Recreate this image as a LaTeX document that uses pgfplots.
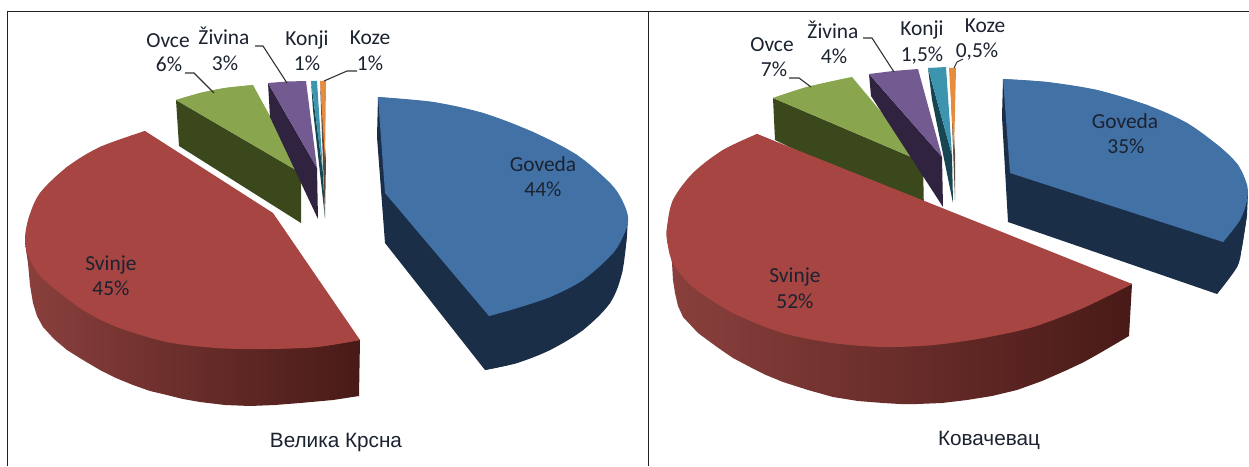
\documentclass[border=0pt]{standalone}
\usepackage{fontspec}
\setmainfont{Carlito}
\newfontfamily\titlefont{Liberation Sans}
\usepackage{pgfplots}
\pgfplotsset{compat=1.18}
\definecolor{bluetop}{HTML}{4271A6}
\definecolor{blueside}{HTML}{1A2E48}
\definecolor{redtop}{HTML}{A64541}
\definecolor{redA}{HTML}{8A403D}
\definecolor{redB}{HTML}{6B2D2A}
\definecolor{redC}{HTML}{481A17}
\definecolor{greentop}{HTML}{89A54E}
\definecolor{greenside}{HTML}{3A481C}
\definecolor{purptop}{HTML}{735A90}
\definecolor{purpside}{HTML}{2F2340}
\definecolor{tealtop}{HTML}{3C94AE}
\definecolor{tealside}{HTML}{174552}
\definecolor{orgtop}{HTML}{E68C3F}
\definecolor{orgside}{HTML}{5A4A3A}
\definecolor{framecol}{HTML}{222222}
\definecolor{lead}{HTML}{333333}
\definecolor{txt}{HTML}{1B2230}
% straight outline
\newcommand{\Pg}[2]{\addplot[fill=#1,draw=none] coordinates {#2} --cycle;}
% rounded arc closed by its chord
\newcommand{\Ar}[2]{\addplot[fill=#1,draw=none,smooth,tension=0.55] coordinates {#2} --cycle;}
\newcommand{\Sd}[1]{\addplot[left color=redA,middle color=redB,right color=redC,draw=none] coordinates {#1} --cycle;}
\newcommand{\Ln}[1]{\addplot[lead,line width=1.1pt] coordinates {#1};}
\newcommand{\Lb}[3]{\node[text=txt,inner sep=0pt,anchor=base,font=\fontsize{21.5}{24}\selectfont] at (axis cs:#1,#2) {#3};}
\begin{document}
\begin{tikzpicture}
\begin{axis}[width=1249bp,height=466bp,scale only axis,xmin=0,xmax=1249,ymin=0,ymax=466,y dir=reverse,hide axis,clip=true,clip mode=individual]
% background and frame
\addplot[fill=white,draw=none] coordinates {(0,0)(1249,0)(1249,466)(0,466)} --cycle;
\addplot[framecol,line width=1pt] coordinates {(7.5,466)(7.5,11.5)(1249,11.5)};
\addplot[framecol,line width=1pt] coordinates {(648.5,11.5)(648.5,466)};
% LEFT: Ovce
\Pg{greenside}{(176,100)(179,146)(301,223)(301,173)}
\Pg{greentop}{(176,100)(200,93)(225,88)(253,85)(301,173)}
\Ar{greentop}{(176,100)(200,93)(225,88)(253,85)}
% Zivina
\Pg{purpside}{(268,83)(270,117)(318,219)(317,168)}
\Pg{purptop}{(268,83)(287,81.5)(306,81)(317,168)}
% Konji
\Pg{tealside}{(311,81)(313,110)(325,218)(323,173)}
\Pg{tealtop}{(311,81)(317,81)(323,173)}
% Koze
\Pg{orgside}{(320,81)(325,218)(326,160)}
\Pg{orgtop}{(320,81)(326,81)(325,160)}
% Goveda
\Pg{blueside}{(378,97)(377,137)(385,243)(485,370)(517,363)(550,350)(583,330)(610,303)(622,273)(627,235)(628,217)}
\Ar{blueside}{(485,370)(517,363)(550,350)(583,330)(610,303)(622,273)(627,235)}
\Pg{bluetop}{(378,97)(433,102)(483,113)(533,132)(577,155)(610,183)(622,200)(628,217)(625,232)(613,253)(583,280)(550,297)(517,308)(489,316)(385,193)}
\Ar{bluetop}{(378,97)(433,102)(483,113)(533,132)(577,155)(610,183)(622,200)(628,217)(625,232)(613,253)(583,280)(550,297)(517,308)(489,316)}
% Svinje
\Sd{(25,240)(26,250)(28,263)(30,285)(33,303)(37,316)(43,327)(54,339)(67,350)(83,360)(100,370)(116,378)(133,385)(150,391)(167,395)(183,399)(200,402)(225,405)(250,406)(275,405)(300,403)(333,400)(359,396)(360,340)}
\Pg{redtop}{(145,131)(100,147)(67,167)(40,193)(29,217)(25,238)(28,255)(37,272)(50,285)(83,310)(117,327)(167,342)(217,348)(267,349)(317,347)(360,340)(273,213)}
\Ar{redtop}{(145,131)(100,147)(67,167)(40,193)(29,217)(25,238)(28,255)(37,272)(50,285)(83,310)(117,327)(167,342)(217,348)(267,349)(317,347)(360,340)}
% RIGHT: Ovce
\Pg{greenside}{(773,98)(775,140)(924,212)(923,162)}
\Pg{greentop}{(773,98)(807,87)(852,77)(923,162)}
\Ar{greentop}{(773,98)(807,87)(852,77)}
% Zivina
\Pg{purpside}{(869,74)(871,96)(943,207)(942,157)}
\Pg{purptop}{(869,74)(893,71)(918,69)(942,157)}
% Konji
\Pg{tealside}{(928,68)(932,100)(953,203)(952,155)}
\Pg{tealtop}{(928,68)(946,67)(952,155)}
% Koze
\Pg{orgside}{(950,70)(955,200)(955,153)}
\Pg{orgtop}{(949,68)(956,68)(954,153)}
% Goveda
\Pg{blueside}{(1003,79)(1002,117)(1008,222)(1217,294)(1237,267)(1242,247)(1247,215)(1248,193)}
\Ar{blueside}{(1217,294)(1237,267)(1242,247)(1247,215)}
\Pg{bluetop}{(1003,79)(1047,82)(1097,90)(1147,105)(1187,123)(1220,147)(1238,165)(1247,185)(1247,200)(1240,220)(1223,242)(1010,173)}
\Ar{bluetop}{(1003,79)(1047,82)(1097,90)(1147,105)(1187,123)(1220,147)(1238,165)(1247,185)(1247,200)(1240,220)(1223,242)}
% Svinje
\Sd{(667,240)(670,252)(672,263)(673,280)(675,293)(678,306)(683,317)(698,333)(717,347)(733,358)(750,367)(766,375)(783,382)(808,390)(833,397)(858,401)(883,403)(900,404)(917,404)(942,403)(967,400)(992,396)(1017,390)(1042,381)(1067,370)(1084,362)(1100,353)(1129,336)(1132,284)}
\Pg{redtop}{(757,134)(723,150)(693,173)(673,200)(667,227)(667,240)(673,263)(693,287)(733,313)(783,333)(833,343)(883,347)(933,345)(983,338)(1033,327)(1083,308)(1132,284)(980,230)(924,206)}
\Ar{redtop}{(757,134)(723,150)(693,173)(673,200)(667,227)(667,240)(673,263)(693,287)(733,313)(783,333)(833,343)(883,347)(933,345)(983,338)(1033,327)(1083,308)(1132,284)}
% leaders
\Ln{(185,73)(194,73)(214,93)}
\Ln{(255,46)(263,46)(287,83)}
\Ln{(324,81)(347,71)(357,71)}
\Ln{(789,78)(799,78)(811,87)}
\Ln{(863,38)(872,38)(894,72)}
\Ln{(963,59)(957,62)(954,68)}
% labels left
\Lb{168}{48}{Ovce}\Lb{169}{72}{6\%}
\Lb{224}{45}{Živina}\Lb{225}{71}{3\%}
\Lb{307}{46}{Konji}\Lb{307}{71}{1\%}
\Lb{370}{45}{Koze}\Lb{370}{71}{1\%}
\Lb{543}{171}{Goveda}\Lb{543}{196}{44\%}
\Lb{111}{270}{Svinje}\Lb{111}{295}{45\%}
% labels right
\Lb{772}{52}{Ovce}\Lb{774}{77}{7\%}
\Lb{833}{39}{Živina}\Lb{834}{64}{4\%}
\Lb{922}{36}{Konji}\Lb{922}{62}{1,5\%}
\Lb{985}{33}{Koze}\Lb{977}{58}{0,5\%}
\Lb{1125}{128}{Goveda}\Lb{1126}{153}{35\%}
\Lb{795}{282}{Svinje}\Lb{795}{308}{52\%}
\node[text=txt,inner sep=0pt,anchor=base,font=\titlefont\fontsize{20.8}{24}\selectfont] at (axis cs:336,447) {Велика Крсна};
\node[text=txt,inner sep=0pt,anchor=base,font=\titlefont\fontsize{20.8}{24}\selectfont] at (axis cs:989,445) {Ковачевац};
\end{axis}
\end{tikzpicture}
\end{document}
